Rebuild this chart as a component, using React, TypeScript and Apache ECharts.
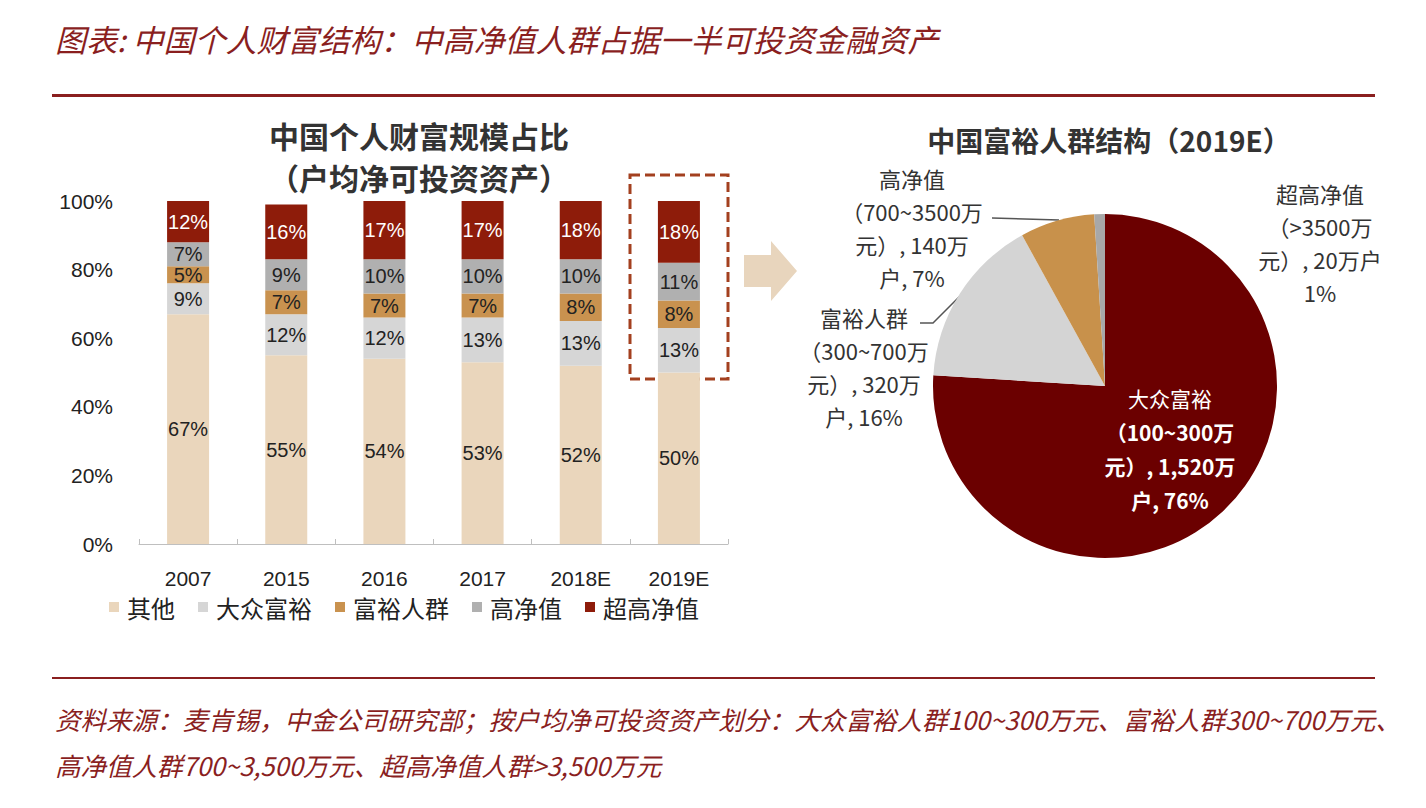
import React, { useEffect, useRef } from "react";
import * as echarts from "echarts";

const categories = ["2007", "2015", "2016", "2017", "2018E", "2019E"];
const otherShare = [67, 55, 54, 53, 52, 50];
const massAffluentShare = [9, 12, 12, 13, 13, 13];
const affluentShare = [5, 7, 7, 7, 8, 8];
const hnwShare = [7, 9, 10, 10, 10, 11];
const uhnwShare = [12, 16, 17, 17, 18, 18];
const barSeriesNames = ["其他", "大众富裕", "富裕人群", "高净值", "超高净值"];
const yTicks = [0, 20, 40, 60, 80, 100];

const pieNames = ["大众富裕", "富裕人群", "高净值", "超高净值"];
const pieHouseholds = [1520, 320, 140, 20];
const pieLabelTexts = [
  "{n|大众富裕}\n{b|（100~300万}\n{b|元）, 1,520万}\n{b|户, 76%}",
  "富裕人群\n（300~700万\n元）, 320万\n户, 16%",
  "高净值\n（700~3500万\n元）, 140万\n户, 7%",
  "超高净值\n（>3500万\n元）, 20万户\n1%",
];

const pageTitle = "图表: 中国个人财富结构：中高净值人群占据一半可投资金融资产";
const leftTitle1 = "中国个人财富规模占比";
const leftTitle2 = "（户均净可投资资产）";
const pieTitle = "中国富裕人群结构（2019E）";
const footer1 = "资料来源：麦肯锡，中金公司研究部；按户均净可投资资产划分：大众富裕人群100~300万元、富裕人群300~700万元、";
const footer2 = "高净值人群700~3,500万元、超高净值人群>3,500万元";

const barColors = ["#EAD6BC", "#D6D6D6", "#C9924F", "#B0B0B0", "#8E1C0A"];
const pieColors = ["#6B0000", "#D4D4D4", "#C8914B", "#A8A8A8"];
const pieLabelPos = [
  [1170, 449],
  [864, 366],
  [912, 227],
  [1320, 242],
];

const FONT = "'Noto Sans CJK SC', 'Liberation Sans', sans-serif";
const NUMFONT = "'Liberation Sans', 'Noto Sans CJK SC', sans-serif";
const DARKRED = "#8A1F1F";

export default function App() {
  const ref = useRef<HTMLDivElement>(null);
  useEffect(() => {
    const chart = echarts.init(ref.current!, null, { renderer: "svg" });
    const shares = [otherShare, massAffluentShare, affluentShare, hnwShare, uhnwShare];
    const barSeries = shares.map((arr, i) => ({
      name: barSeriesNames[i],
      type: "bar",
      stack: "total",
      barWidth: 42,
      data: arr,
      itemStyle: { color: barColors[i] },
      label: {
        show: true,
        position: "inside",
        formatter: "{c}%",
        fontFamily: NUMFONT,
        fontSize: 20,
        color: i === 4 ? "#FFFFFF" : "#222222",
      },
    }));

    chart.setOption({
      animation: false,
      backgroundColor: "#FFFFFF",
      textStyle: { fontFamily: FONT },
      grid: { left: 139, right: 698, top: 201, bottom: 264, containLabel: false },
      legend: {
        data: barSeriesNames,
        left: 104,
        top: 590,
        itemWidth: 10,
        itemHeight: 10,
        itemGap: 23,
        icon: "rect",
        textStyle: { fontSize: 24, color: "#222", fontFamily: FONT, padding: [0, 0, 0, 3] },
      },
      xAxis: {
        type: "category",
        data: categories,
        axisLine: { lineStyle: { color: "#BFBFBF", width: 1 } },
        axisTick: { show: true, inside: true, length: 5, lineStyle: { color: "#BFBFBF" } },
        axisLabel: { fontSize: 21, color: "#222", fontFamily: NUMFONT, margin: 24 },
      },
      yAxis: {
        type: "value",
        min: yTicks[0],
        max: yTicks[yTicks.length - 1],
        interval: 20,
        splitLine: { show: false },
        axisLine: { show: false },
        axisTick: { show: false },
        axisLabel: { fontSize: 21, color: "#222", fontFamily: NUMFONT, margin: 26, formatter: "{value}%" },
      },
      series: [
        ...barSeries,
        {
          name: "pie",
          type: "pie",
          center: [1105, 386],
          radius: 172,
          startAngle: 90,
          clockwise: true,
          legendHoverLink: false,
          data: pieNames.map((n, i) => ({
            name: n,
            value: pieHouseholds[i],
            itemStyle: { color: pieColors[i] },
            label:
              i === 0
                ? {
                    position: "inside",
                    formatter: pieLabelTexts[i],
                    color: "#FFFFFF",
                    rich: {
                      n: { fontSize: 21, color: "#FFFFFF", lineHeight: 34, fontFamily: FONT },
                      b: { fontSize: 21, color: "#FFFFFF", fontWeight: "bold", lineHeight: 34, fontFamily: FONT },
                    },
                  }
                : {
                    position: "outside",
                    formatter: pieLabelTexts[i],
                    color: "#333",
                    fontSize: 22,
                    lineHeight: 33,
                    fontFamily: FONT,
                  },
            labelLine: { show: false },
          })),
          labelLayout: (params: any) => {
            const p = pieLabelPos[params.dataIndex];
            return { x: p[0], y: p[1], align: "center", verticalAlign: "middle" };
          },
        },
      ],
      graphic: [
        {
          type: "text",
          left: 55,
          top: 23,
          style: { text: pageTitle, fontSize: 31, fontStyle: "italic", fill: DARKRED, fontFamily: FONT },
        },
        { type: "rect", shape: { x: 52, y: 94, width: 1323, height: 3 }, style: { fill: DARKRED } },
        { type: "rect", shape: { x: 52, y: 677, width: 1323, height: 2 }, style: { fill: DARKRED } },
        {
          type: "text",
          left: 55,
          top: 706,
          style: { text: footer1, fontSize: 25.5, fontStyle: "italic", fill: DARKRED, fontFamily: FONT },
        },
        {
          type: "text",
          left: 55,
          top: 752,
          style: { text: footer2, fontSize: 25.5, fontStyle: "italic", fill: DARKRED, fontFamily: FONT },
        },
        {
          type: "text",
          x: 419,
          y: 135,
          style: { text: leftTitle1, fontSize: 30, fontWeight: "bold", fill: "#333", align: "center", verticalAlign: "middle", fontFamily: FONT },
        },
        {
          type: "text",
          x: 419,
          y: 177,
          style: { text: leftTitle2, fontSize: 30, fontWeight: "bold", fill: "#333", align: "center", verticalAlign: "middle", fontFamily: FONT },
        },
        {
          type: "text",
          x: 1109,
          y: 140,
          style: { text: pieTitle, fontSize: 28, fontWeight: "bold", fill: "#333", align: "center", verticalAlign: "middle", fontFamily: FONT },
        },
        {
          type: "polyline",
          shape: { points: [[992, 218], [1059, 220]] },
          style: { stroke: "#555", lineWidth: 1.5, fill: "none" },
        },
        {
          type: "polyline",
          shape: { points: [[920, 323], [933, 323], [962, 294]] },
          style: { stroke: "#555", lineWidth: 1.5, fill: "none" },
        },
        {
          type: "rect",
          shape: { x: 630, y: 175, width: 98, height: 204 },
          style: { fill: "none", stroke: "#A3401F", lineWidth: 3, lineDash: [10, 5] },
        },
        {
          type: "polygon",
          shape: {
            points: [
              [744, 255],
              [771, 255],
              [771, 241],
              [797, 271],
              [771, 301],
              [771, 287],
              [744, 287],
            ],
          },
          style: { fill: "#E8D5BD" },
        },
      ],
    });
    return () => chart.dispose();
  }, []);
  return <div ref={ref} style={{ position: "fixed", left: 0, top: 0, width: 1426, height: 808 }} />;
}
